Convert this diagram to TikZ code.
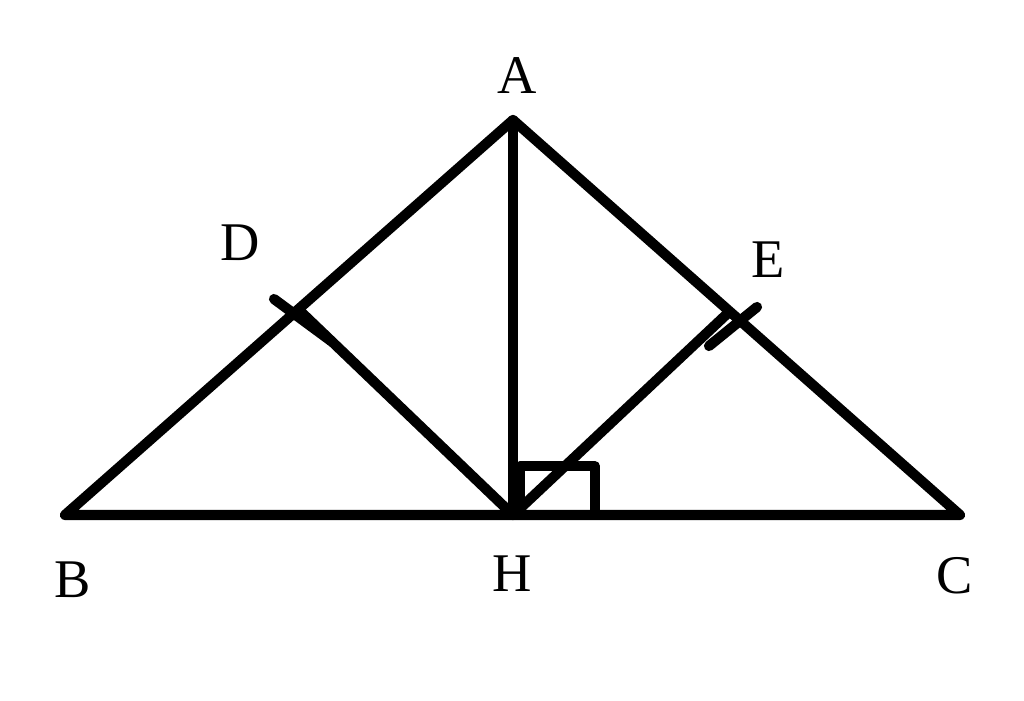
\documentclass[tikz,border=0pt]{standalone}
\usepackage{fontspec}
\setmainfont{Liberation Serif}
\begin{document}
\begin{tikzpicture}[x=0.02cm,y=-0.02cm,line width=5.8pt,line cap=round,line join=round,
    lbl/.style={inner sep=0pt,font=\fontsize{31}{34}\selectfont}]
       \useasboundingbox (0,0) rectangle (1024,700);
       \coordinate (A) at (513,120);
       \coordinate (B) at (65,515);
       \coordinate (C) at (960,515);
       \coordinate (H) at (513,515);
       \coordinate (D) at (299,310);
       \coordinate (E) at (728,313);
       \node[lbl] (la) at (517,76) {A};
       \node[lbl] (lb) at (73,580) {B};
       \node[lbl] (lc) at (955,576) {C};
       \node[lbl] (lh) at (512,574) {H};
       \node[lbl] (ld) at (240,243) {D};
       \node[lbl] (le) at (768,260) {E};
       \draw (A) -- (B) -- (C) -- cycle;
       \draw (A) -- (H);
       \draw (D) -- (H) -- (E);
       % tick marks
       \draw (274,299) -- (331,341);
       \draw (709,346) -- (757,307);
       % right angle
       \draw[line width=5.5pt,line cap=butt] (520,515) -- (520,466) -- (595,466) -- (595,515);
    \end{tikzpicture}
\end{document}
